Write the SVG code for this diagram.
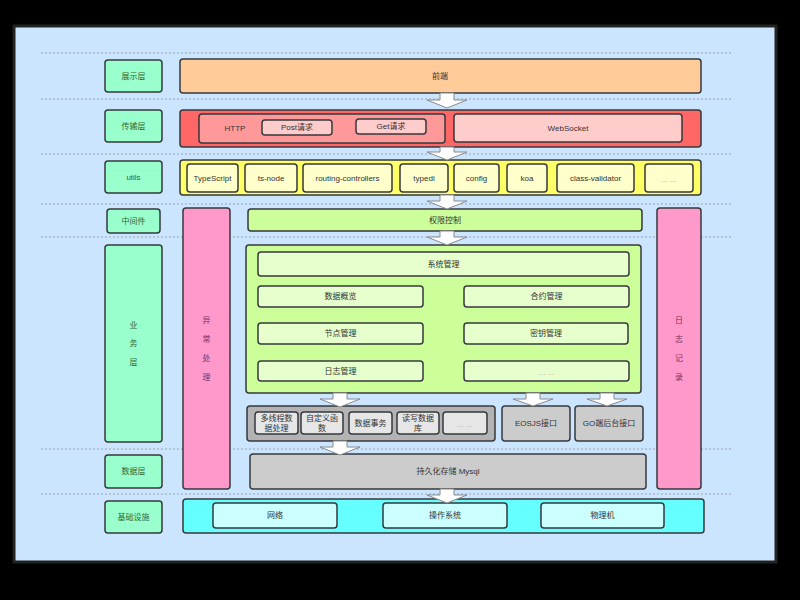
<svg xmlns="http://www.w3.org/2000/svg" width="800" height="600" viewBox="0 0 800 600">
<style>
.bx{stroke:#36393d;stroke-width:1.5}
.lbl{fill:#99ffcc}
.t{font-family:"Liberation Sans","Noto Sans CJK SC",sans-serif;font-size:8px;fill:#333;text-anchor:middle;dominant-baseline:central}
.tg{fill:#336633}
.tp{fill:#7a2f5a}
.dim{fill:#aaa}
.sep{stroke:#9aa3ad;stroke-width:1;stroke-dasharray:2 2}
.arr{fill:#fff;stroke:#8a8a8a;stroke-width:1}
</style>
<rect x="0" y="0" width="800" height="600" fill="#000"/>
<rect x="14" y="26" width="762" height="536" fill="#cce5ff" stroke="#222" stroke-width="3"/>
<g id="separators">
<line class="sep" x1="41" y1="53" x2="731" y2="53"/>
<line class="sep" x1="41" y1="99" x2="731" y2="99"/>
<line class="sep" x1="41" y1="154" x2="731" y2="154"/>
<line class="sep" x1="41" y1="204" x2="731" y2="204"/>
<line class="sep" x1="41" y1="237" x2="731" y2="237"/>
<line class="sep" x1="41" y1="449" x2="731" y2="449"/>
<line class="sep" x1="41" y1="494" x2="731" y2="494"/>
</g>
<g id="layer-labels">
<g id="lbl-display"><rect class="bx lbl" x="105" y="60" width="57" height="32" rx="3"/><text class="t tg" x="133.5" y="76">展示层</text></g>
<g id="lbl-transport"><rect class="bx lbl" x="105" y="110" width="57" height="32" rx="3"/><text class="t tg" x="133.5" y="126">传输层</text></g>
<g id="lbl-utils"><rect class="bx lbl" x="105" y="161" width="57" height="32" rx="3"/><text class="t tg" x="133.5" y="177">utils</text></g>
<g id="lbl-middleware"><rect class="bx lbl" x="107" y="209" width="53" height="24" rx="3"/><text class="t tg" x="133.5" y="221">中间件</text></g>
<g id="lbl-business"><rect class="bx lbl" x="105" y="245" width="57" height="197" rx="3"/><text class="t tg" x="133.5" y="325">业</text><text class="t tg" x="133.5" y="343">务</text><text class="t tg" x="133.5" y="362">层</text></g>
<g id="lbl-data"><rect class="bx lbl" x="105" y="455" width="57" height="33" rx="3"/><text class="t tg" x="133.5" y="471.5">数据层</text></g>
<g id="lbl-infra"><rect class="bx lbl" x="105" y="501" width="57" height="32" rx="3"/><text class="t tg" x="133.5" y="517">基础设施</text></g>
</g>
<g id="frontend"><rect class="bx" x="180" y="59" width="521" height="34" rx="3" fill="#ffcc99"/><text class="t" x="440" y="76">前端</text></g>
<g id="transport">
<rect class="bx" x="180" y="110" width="521" height="37" rx="3" fill="#ff6666"/>
<g id="http"><rect class="bx" x="199" y="114" width="246" height="29" rx="3" fill="#ff9999"/><text class="t" x="235" y="128.5">HTTP</text></g>
<g id="post"><rect class="bx" x="262" y="120" width="70" height="15" rx="3" fill="#ffcccc"/><text class="t" x="297" y="127.5">Post请求</text></g>
<g id="get"><rect class="bx" x="356" y="119" width="70" height="15" rx="3" fill="#ffcccc"/><text class="t" x="391" y="126.5">Get请求</text></g>
<g id="websocket"><rect class="bx" x="454" y="114" width="228" height="28" rx="3" fill="#ffcccc"/><text class="t" x="568" y="128">WebSocket</text></g>
</g>
<g id="utils">
<rect class="bx" x="180" y="160" width="521" height="35" rx="3" fill="#ffff66"/>
<g id="u-ts"><rect class="bx" x="187" y="164" width="51" height="28" rx="3" fill="#ffffcc"/><text class="t" x="212.5" y="178">TypeScript</text></g>
<g id="u-tsnode"><rect class="bx" x="245" y="164" width="52" height="28" rx="3" fill="#ffffcc"/><text class="t" x="271" y="178">ts-node</text></g>
<g id="u-rc"><rect class="bx" x="303" y="164" width="89" height="28" rx="3" fill="#ffffcc"/><text class="t" x="347.5" y="178">routing-controllers</text></g>
<g id="u-typedi"><rect class="bx" x="400" y="164" width="48" height="28" rx="3" fill="#ffffcc"/><text class="t" x="424" y="178">typedi</text></g>
<g id="u-config"><rect class="bx" x="454" y="164" width="45" height="28" rx="3" fill="#ffffcc"/><text class="t" x="476.5" y="178">config</text></g>
<g id="u-koa"><rect class="bx" x="507" y="164" width="40" height="28" rx="3" fill="#ffffcc"/><text class="t" x="527" y="178">koa</text></g>
<g id="u-cv"><rect class="bx" x="557" y="164" width="77" height="28" rx="3" fill="#ffffcc"/><text class="t" x="595.5" y="178">class-validator</text></g>
<g id="u-more"><rect class="bx" x="645" y="164" width="48" height="28" rx="3" fill="#ffffcc"/><text class="t dim" x="669" y="179">... ...</text></g>
</g>
<g id="exception"><rect class="bx" x="183" y="208" width="47" height="281" rx="3" fill="#ff99cc"/><text class="t tp" x="206.5" y="320">异</text><text class="t tp" x="206.5" y="339">常</text><text class="t tp" x="206.5" y="358">处</text><text class="t tp" x="206.5" y="377">理</text></g>
<g id="logging"><rect class="bx" x="657" y="208" width="44" height="281" rx="3" fill="#ff99cc"/><text class="t tp" x="679" y="320">日</text><text class="t tp" x="679" y="339">志</text><text class="t tp" x="679" y="358">记</text><text class="t tp" x="679" y="377">录</text></g>
<g id="auth"><rect class="bx" x="248" y="209" width="394" height="22" rx="3" fill="#ccff99"/><text class="t" x="445" y="220">权限控制</text></g>
<g id="business">
<rect class="bx" x="246" y="245" width="395" height="148" rx="3" fill="#ccff99"/>
<g id="b-sys"><rect class="bx" x="258" y="252" width="371" height="24" rx="3" fill="#e6ffcc"/><text class="t" x="443.5" y="264">系统管理</text></g>
<g id="b-overview"><rect class="bx" x="258" y="286" width="165" height="21" rx="3" fill="#e6ffcc"/><text class="t" x="340.5" y="296.5">数据概览</text></g>
<g id="b-contract"><rect class="bx" x="464" y="286" width="165" height="21" rx="3" fill="#e6ffcc"/><text class="t" x="546.5" y="296.5">合约管理</text></g>
<g id="b-node"><rect class="bx" x="258" y="323" width="165" height="21" rx="3" fill="#e6ffcc"/><text class="t" x="340.5" y="333.5">节点管理</text></g>
<g id="b-key"><rect class="bx" x="464" y="323" width="164" height="21" rx="3" fill="#e6ffcc"/><text class="t" x="546" y="333.5">密钥管理</text></g>
<g id="b-log"><rect class="bx" x="258" y="361" width="165" height="20" rx="3" fill="#e6ffcc"/><text class="t" x="340.5" y="371">日志管理</text></g>
<g id="b-more"><rect class="bx" x="464" y="361" width="165" height="20" rx="3" fill="#e6ffcc"/><text class="t dim" x="546.5" y="372">... ...</text></g>
</g>
<g id="data-ops">
<rect class="bx" x="247" y="406" width="248" height="35" rx="3" fill="#b3b3b3"/>
<g id="d-mt"><rect class="bx" x="255" y="412" width="43" height="22" rx="3" fill="#e6e6e6"/><text class="t" x="276.5" y="418.5">多线程数</text><text class="t" x="276.5" y="428">据处理</text></g>
<g id="d-func"><rect class="bx" x="301" y="412" width="42" height="22" rx="3" fill="#e6e6e6"/><text class="t" x="322" y="418.5">自定义函</text><text class="t" x="322" y="428">数</text></g>
<g id="d-tx"><rect class="bx" x="349" y="412" width="43" height="22" rx="3" fill="#e6e6e6"/><text class="t" x="370.5" y="423">数据事务</text></g>
<g id="d-rw"><rect class="bx" x="397" y="412" width="42" height="22" rx="3" fill="#e6e6e6"/><text class="t" x="418" y="418.5">读写数据</text><text class="t" x="418" y="428">库</text></g>
<g id="d-more"><rect class="bx" x="443" y="412" width="44" height="22" rx="3" fill="#e6e6e6"/><text class="t dim" x="465" y="424">... ...</text></g>
</g>
<g id="eosjs"><rect class="bx" x="502" y="406" width="68" height="35" rx="3" fill="#cccccc"/><text class="t" x="536" y="423.5">EOSJS接口</text></g>
<g id="go"><rect class="bx" x="575" y="406" width="68" height="35" rx="3" fill="#cccccc"/><text class="t" x="609" y="423.5">GO端后台接口</text></g>
<g id="mysql"><rect class="bx" x="250" y="454" width="396" height="35" rx="3" fill="#cccccc"/><text class="t" x="448" y="471.5">持久化存储 Mysql</text></g>
<g id="infra">
<rect class="bx" x="183" y="499" width="521" height="34" rx="3" fill="#66ffff"/>
<g id="i-net"><rect class="bx" x="213" y="503" width="124" height="25" rx="3" fill="#ccffff"/><text class="t" x="275" y="515.5">网络</text></g>
<g id="i-os"><rect class="bx" x="383" y="503" width="124" height="25" rx="3" fill="#ccffff"/><text class="t" x="445" y="515.5">操作系统</text></g>
<g id="i-pm"><rect class="bx" x="541" y="503" width="123" height="25" rx="3" fill="#ccffff"/><text class="t" x="602.5" y="515.5">物理机</text></g>
</g>
<g id="connectors">
<path class="arr" d="M440,93 H454 V100 H467 L447,108 L427,100 H440 Z"/>
<path class="arr" d="M440,147 H454 V152 H467 L447,160 L427,152 H440 Z"/>
<path class="arr" d="M440,195 H454 V201 H467 L447,209 L427,201 H440 Z"/>
<path class="arr" d="M440,231 H454 V237 H467 L447,245 L427,237 H440 Z"/>
<path class="arr" d="M333,393 H347 V399 H360 L340,407 L320,399 H333 Z"/>
<path class="arr" d="M526,393 H540 V399 H553 L533,406 L513,399 H526 Z"/>
<path class="arr" d="M600,393 H614 V399 H627 L607,406 L587,399 H600 Z"/>
<path class="arr" d="M333,441 H347 V447 H360 L340,455 L320,447 H333 Z"/>
<path class="arr" d="M440,489 H454 V495 H467 L447,503 L427,495 H440 Z"/>
</g>
</svg>
